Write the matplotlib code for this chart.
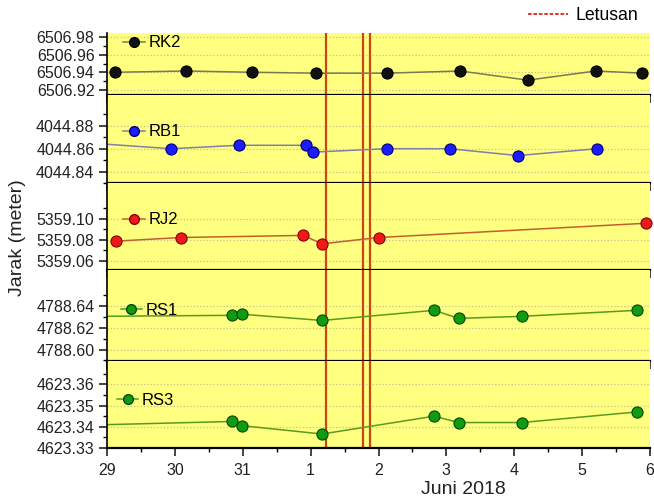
import matplotlib
matplotlib.use("Agg")
import matplotlib.pyplot as plt
from matplotlib.ticker import MultipleLocator, FormatStrFormatter, FixedLocator
from matplotlib.lines import Line2D

plt.rcParams['font.family'] = ['Liberation Sans', 'DejaVu Sans']
plt.rcParams['ytick.labelsize'] = 11.5
plt.rcParams['xtick.labelsize'] = 11.5

# x axis: days since 29 May 2018 (0 = 29 Mei, 3 = 1 Juni, 8 = 6 Juni)
x_tick_labels = ["29", "30", "31", "1", "2", "3", "4", "5", "6"]

rk2_x = [0.12, 1.16, 2.14, 3.08, 4.12, 5.20, 6.20, 7.20, 7.88]
rk2_y = [6506.940, 6506.9415, 6506.940, 6506.939, 6506.939, 6506.9415, 6506.931, 6506.9415, 6506.939]

rb1_x = [-0.5, 0.94, 1.94, 2.93, 3.03, 4.12, 5.05, 6.05, 7.22]
rb1_y = [4044.866, 4044.860, 4044.863, 4044.863, 4044.857, 4044.860, 4044.860, 4044.854, 4044.860]

rj2_x = [0.13, 1.09, 2.89, 3.17, 4.00, 7.94]
rj2_y = [5359.0785, 5359.082, 5359.084, 5359.076, 5359.082, 5359.0956]

rs1_x = [-0.5, 1.84, 1.99, 3.17, 4.82, 5.18, 6.11, 7.81]
rs1_y = [4788.6303, 4788.6314, 4788.6324, 4788.6267, 4788.636, 4788.6286, 4788.6305, 4788.636]

rs3_x = [-0.5, 1.84, 1.99, 3.17, 4.82, 5.18, 6.11, 7.81]
rs3_y = [4623.3406, 4623.3425, 4623.3405, 4623.3366, 4623.345, 4623.342, 4623.342, 4623.347]

rk2_ticks = [6506.92, 6506.94, 6506.96, 6506.98]
rb1_ticks = [4044.84, 4044.86, 4044.88]
rj2_ticks = [5359.06, 5359.08, 5359.10]
rs1_ticks = [4788.60, 4788.62, 4788.64]
rs3_ticks = [4623.33, 4623.34, 4623.35, 4623.36]

letusan_days = [3.23, 3.77, 3.87]

series = [
    ("RK2", rk2_x, rk2_y, '#111111', '#7a7a50', (6506.914, 6506.985), rk2_ticks, 0.01),
    ("RB1", rb1_x, rb1_y, '#1c1cff', '#8080a8', (4044.830, 4044.907), rb1_ticks, 0.01),
    ("RJ2", rj2_x, rj2_y, '#ee1a1a', '#c06030', (5359.051, 5359.134), rj2_ticks, 0.01),
    ("RS1", rs1_x, rs1_y, '#129a12', '#5a9a20', (4788.5895, 4788.673), rs1_ticks, 0.01),
    ("RS3", rs3_x, rs3_y, '#129a12', '#5a9a20', (4623.330, 4623.371), rs3_ticks, 0.005),
]
edge_colors = ['#000000', '#00006a', '#8a0000', '#004a00', '#004a00']
legend_pos = [(0.03, 0.84), (0.03, 0.58), (0.03, 0.575), (0.025, 0.56), (0.018, 0.55)]

W, H = 654, 501
fig = plt.figure(figsize=(W / 100, H / 100), dpi=100)
gs = fig.add_gridspec(5, 1, height_ratios=[62, 88, 87, 91, 87], hspace=0,
                      left=107 / W, right=650 / W, top=1 - 33 / H, bottom=1 - 448 / H)

yellow = '#ffff80'
for i, (name, xs, ys, mc, lc, ylim, ticks, minor) in enumerate(series):
    ax = fig.add_subplot(gs[i])
    ax.set_facecolor(yellow)
    for s in ['top', 'right']:
        ax.spines[s].set_visible(False)
    ax.spines['left'].set_linewidth(1.2)
    ax.spines['bottom'].set_linewidth(1.6)
    ax.set_xlim(0, 8)
    ax.set_ylim(*ylim)
    ax.yaxis.set_major_locator(FixedLocator(ticks))
    minor_ticks = [t + minor for t in ticks[:-1]] + [ticks[0] - minor, ticks[-1] + minor]
    minor_ticks = [t for t in minor_ticks if ylim[0] <= t <= ylim[1]]
    ax.yaxis.set_minor_locator(FixedLocator(minor_ticks))
    ax.yaxis.set_major_formatter(FormatStrFormatter('%.2f'))
    ax.xaxis.set_major_locator(FixedLocator(range(9)))
    ax.xaxis.set_minor_locator(MultipleLocator(0.5))
    ax.tick_params(axis='both', which='major', direction='out', length=6, width=1.2,
                   colors='#222222', pad=3)
    ax.tick_params(axis='both', which='minor', direction='out', length=3, width=1.0)
    ax.grid(axis='y', which='major', linestyle=':', color='#c8c090', linewidth=0.9)
    ax.set_axisbelow(True)
    if i < 4:
        ax.set_xticklabels([])
    else:
        ax.set_xticklabels(x_tick_labels)
        ax.tick_params(axis='x', which='major', pad=5)
    for d in letusan_days:
        ax.axvline(d, color='#c8461a', linewidth=1.6, zorder=1)
    ax.plot(xs, ys, '-', color=lc, linewidth=1.1, zorder=2, clip_on=True)
    mx = [x for x in xs if x >= 0]
    my = [y for x, y in zip(xs, ys) if x >= 0]
    ax.plot(mx, my, 'o', color=mc, markersize=8, markeredgecolor=edge_colors[i],
            markeredgewidth=0.8, linestyle='none', zorder=3, clip_on=False)
    h = Line2D([], [], color=lc, linewidth=1.1, marker='o', markersize=7,
               markerfacecolor=mc, markeredgecolor=edge_colors[i])
    ax.legend([h], [name], loc='center left', bbox_to_anchor=legend_pos[i],
              frameon=False, handlelength=1.3, handletextpad=0.2, borderpad=0,
              borderaxespad=0, fontsize=12)

lh = Line2D([], [], color='#dd2222', linestyle=(0, (2, 1)), linewidth=1.3)
fig.legend([lh], ['Letusan'], loc='center right', bbox_to_anchor=(1.0, 1 - 16 / H),
           frameon=False, handlelength=2.3, handletextpad=0.4, fontsize=12.7)

fig.text(463 / W, 1 - 490 / H, 'Juni 2018', ha='center', va='center', fontsize=14, color='#222222')
fig.text(18 / W, 1 - 238 / H, 'Jarak (meter)', ha='center', va='center', rotation=90,
         fontsize=14, color='#222222')

fig.savefig('out.png', dpi=100)
